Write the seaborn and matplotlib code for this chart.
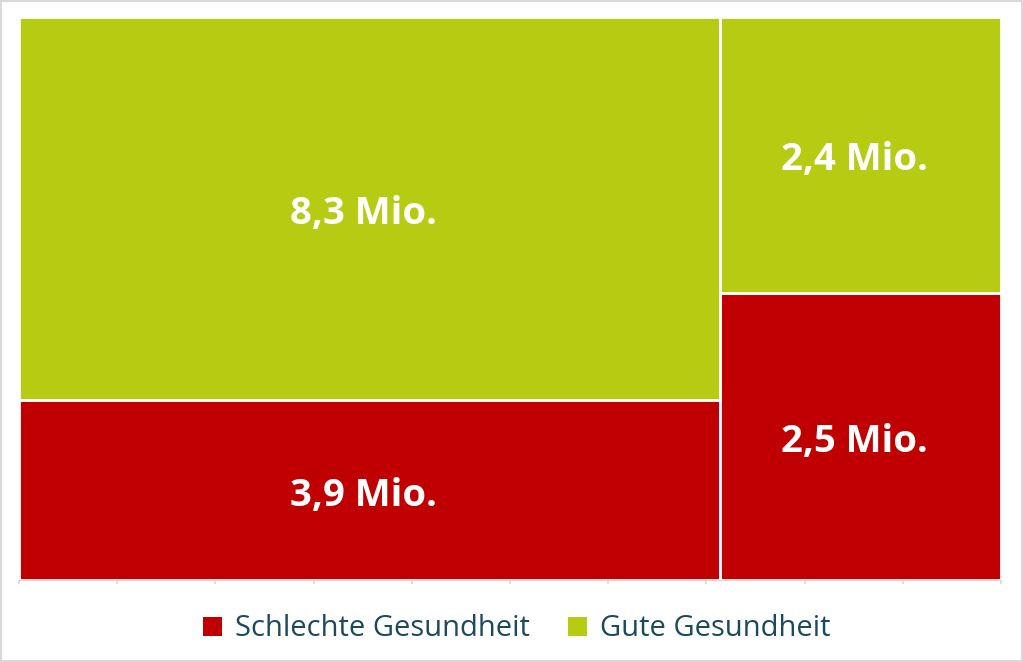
import matplotlib
matplotlib.use("Agg")
import matplotlib.pyplot as plt
import seaborn as sns
import numpy as np
from matplotlib.patches import Rectangle, Patch

# Data
groups = ["Gruppe A", "Gruppe B"]
schlecht = [3.9, 2.5]   # Mio.
gut = [8.3, 2.4]        # Mio.
series_names = ["Schlechte Gesundheit", "Gute Gesundheit"]
colors = ["#C00000", "#B5CC12"]
tick_labels = [f"{v}" for v in range(0, 101, 10)]

sns.set_theme(style="white")
plt.rcParams['font.family'] = ['Open Sans', 'DejaVu Sans']

fig = plt.figure(figsize=(10.23, 6.62), dpi=100)
ax = fig.add_axes([19/1023, 1-580/662, 982/1023, 563/662])

totals = np.array(schlecht) + np.array(gut)
widths = totals / totals.sum() * 100
lefts = np.concatenate([[0], np.cumsum(widths)[:-1]])
h_bad = np.array(schlecht) / totals * 100
h_good = np.array(gut) / totals * 100

ax.bar(lefts, h_bad, width=widths, align='edge', color=colors[0],
       edgecolor='white', linewidth=2)
ax.bar(lefts, h_good, width=widths, bottom=h_bad, align='edge', color=colors[1],
       edgecolor='white', linewidth=2)

def fmt(v):
    return f"{v:.1f}".replace(".", ",") + " Mio."

for l, w, hb, hg, vb, vg in zip(lefts, widths, h_bad, h_good, schlecht, gut):
    for yc, v in [(hb/2, vb), (hb + hg/2, vg)]:
        ax.annotate(fmt(v), (l + w/2 - 0.6, yc), xytext=(0, -4), textcoords='offset points',
                    ha='center', va='center', color='white',
                    fontsize=27.5, fontweight='bold')

ax.set_xlim(0, 100)
ax.set_ylim(0, 100)
ax.set_xticks(range(0, 101, 10))
ax.set_xticklabels([])
ax.set_yticks([])
ax.tick_params(axis='x', length=3, color='#d9d9d9', direction='out', bottom=True)
for s in ['top', 'right', 'left']:
    ax.spines[s].set_visible(False)
ax.spines['bottom'].set_color('#d9d9d9')
ax.spines['bottom'].set_linewidth(1)

handles = [Patch(facecolor=c, edgecolor='none') for c in colors]
leg = fig.legend(handles, series_names, loc='center', bbox_to_anchor=(516.5/1023, 1-629/662),
                 ncol=2, frameon=False, fontsize=21, handlelength=0.65, handleheight=0.65,
                 columnspacing=1.3, handletextpad=0.45)
for t in leg.get_texts():
    t.set_color('#1B4A5C')

fig.patches.append(Rectangle((0.001, 0.001), 0.998, 0.997, transform=fig.transFigure,
                             fill=False, edgecolor='#d9d9d9', linewidth=1.5))

fig.savefig("out.png", dpi=100)
